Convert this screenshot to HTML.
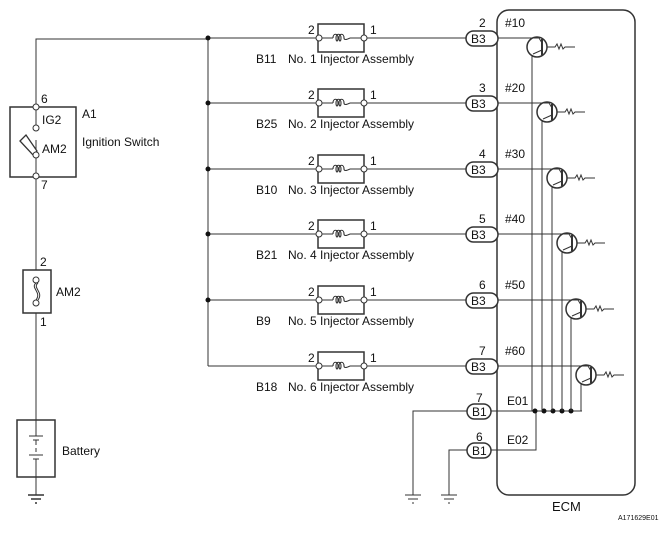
<!DOCTYPE html>
<html><head><meta charset="utf-8"><style>
body{margin:0;background:#fff}
text{font-family:"Liberation Sans",sans-serif;font-size:12px;fill:#111}
</style></head><body>
<svg width="666" height="528" viewBox="0 0 666 528" xmlns="http://www.w3.org/2000/svg">
<g stroke="#333" stroke-width="1" fill="none">
<path d="M36 107 V39 H208"/>
<path d="M208 39 V366"/>
<rect x="10" y="107" width="66" height="70" stroke-width="1.5"/>
<path d="M36 107 V125 M36 140 V177 M36 177 V270"/>
<circle cx="36" cy="128" r="3" fill="#fff"/>
<path d="M20 141 L26 135 L37 151 L33 155 Z" fill="#fff" stroke-width="1.3"/>
<circle cx="36" cy="155" r="3" fill="#fff"/>
<circle cx="36" cy="107" r="3" fill="#fff"/>
<circle cx="36" cy="176" r="3" fill="#fff"/>
<rect x="23" y="270" width="28" height="43" stroke-width="1.5"/>
<circle cx="36" cy="280" r="3" fill="#fff"/>
<circle cx="36" cy="303" r="3" fill="#fff"/>
<path d="M36 283 C30 288 42 292 36 300 M38 283 C32 288 44 292 38 300"/>
<path d="M36 313 V420"/>
<rect x="17" y="420" width="38" height="57" stroke-width="1.5"/>
<path d="M36 420 V436 M29 436 H43 M33 440 H39 M36 440 V445 M36 448 V452 M29 455 H43 M33 459 H39 M36 459 V495"/>
<path d="M28 495 H44 M31 499 H41 M35 503 H37" stroke-width="1.5"/>
</g>
<text x="41" y="103">6</text>
<text x="42" y="124">IG2</text>
<text x="42" y="153">AM2</text>
<text x="41" y="189">7</text>
<text x="82" y="118">A1</text>
<text x="82" y="146">Ignition Switch</text>
<text x="40" y="266">2</text>
<text x="56" y="296">AM2</text>
<text x="40" y="326">1</text>
<text x="62" y="455">Battery</text>

<rect x="497" y="10" width="138" height="485" rx="12" stroke="#333" stroke-width="1.5" fill="none"/>
<text x="552" y="511" style="font-size:13px">ECM</text>
<text x="618" y="520" style="font-size:7px">A171629E01</text>
<g stroke="#333" stroke-width="1" fill="none">
<path d="M467 411 H413 V495 M405 495 H421 M408 499 H418 M412 503 H414"/>
<path d="M467 450 H449 V495 M441 495 H457 M444 499 H454 M448 503 H450"/>
<path d="M491 411 H582 M491 450 H536 V411"/>
<rect x="467" y="404" width="24" height="15" rx="7.5" stroke-width="1.5" fill="#fff"/>
<rect x="467" y="443" width="24" height="15" rx="7.5" stroke-width="1.5" fill="#fff"/>
</g>
<g fill="#111"><circle cx="535" cy="411" r="2.5"/><circle cx="544" cy="411" r="2.5"/><circle cx="553" cy="411" r="2.5"/><circle cx="562" cy="411" r="2.5"/><circle cx="571" cy="411" r="2.5"/></g>
<text x="472" y="416">B1</text><text x="472" y="455">B1</text>
<text x="476" y="402">7</text><text x="476" y="441">6</text>
<text x="507" y="405">E01</text><text x="507" y="444">E02</text>
<g id="t"></g>
</svg>
<script>
var rows=[[38,"B11","1","2","#10",537],[103,"B25","2","3","#20",547],[169,"B10","3","4","#30",557],[234,"B21","4","5","#40",567],[300,"B9","5","6","#50",576],[366,"B18","6","7","#60",586]];
var s="";
rows.forEach(function(r,i){var y=r[0],cx=r[5],cy=y+9;
s+='<g stroke="#333" stroke-width="1" fill="none">';
s+='<path d="M208 '+y+' H466"/>';
s+='<rect x="318" y="'+(y-14)+'" width="46" height="28" stroke-width="1.5" fill="#fff"/>';
s+='<path d="M318 '+y+' H333 M350 '+y+' H364"/>';
s+='<path d="M333 '+y+' c0 -5 5 -5 5 0 c0 4 -2 4 -2 0 c0 -5 5 -5 5 0 c0 4 -2 4 -2 0 c0 -5 5 -5 5 0 c0 2 2 2 6 0" stroke-width="1.1"/>';
s+='<circle cx="319" cy="'+y+'" r="3" fill="#fff"/><circle cx="364" cy="'+y+'" r="3" fill="#fff"/>';
s+='<rect x="466" y="'+(y-7)+'" width="32" height="15" rx="7.5" stroke-width="1.5" fill="#fff"/>';
s+='<path d="M498 '+y+' H'+(cx+2)+' L'+(cx+5)+' '+(cy-4)+'"/>';
s+='<circle cx="'+cx+'" cy="'+cy+'" r="10" stroke-width="1.5"/>';
s+='<path d="M'+(cx+5)+' '+(cy-8)+' V'+(cy+8)+'" stroke-width="2"/>';
s+='<path d="M'+(cx+5)+' '+(cy+3)+' L'+(cx-4)+' '+(cy+7)+' M'+(cx-5)+' '+(cy+9)+' V411"/>';
s+='<path d="M'+(cx+10)+' '+cy+' h8 l2 -3 l2 5 l2 -5 l2 5 l2 -2 h10"/>';
s+='</g>';
if(i<5)s+='<circle cx="208" cy="'+y+'" r="2.5" fill="#111"/>';
s+='<text x="308" y="'+(y-4)+'">2</text><text x="370" y="'+(y-4)+'">1</text>';
s+='<text x="256" y="'+(y+25)+'">'+r[1]+'</text><text x="288" y="'+(y+25)+'">No. '+r[2]+' Injector Assembly</text>';
s+='<text x="479" y="'+(y-11)+'">'+r[3]+'</text><text x="471" y="'+(y+5)+'">B3</text>';
s+='<text x="505" y="'+(y-11)+'">'+r[4]+'</text>';
});
document.getElementById("t").innerHTML=s;
</script>
</body></html>
